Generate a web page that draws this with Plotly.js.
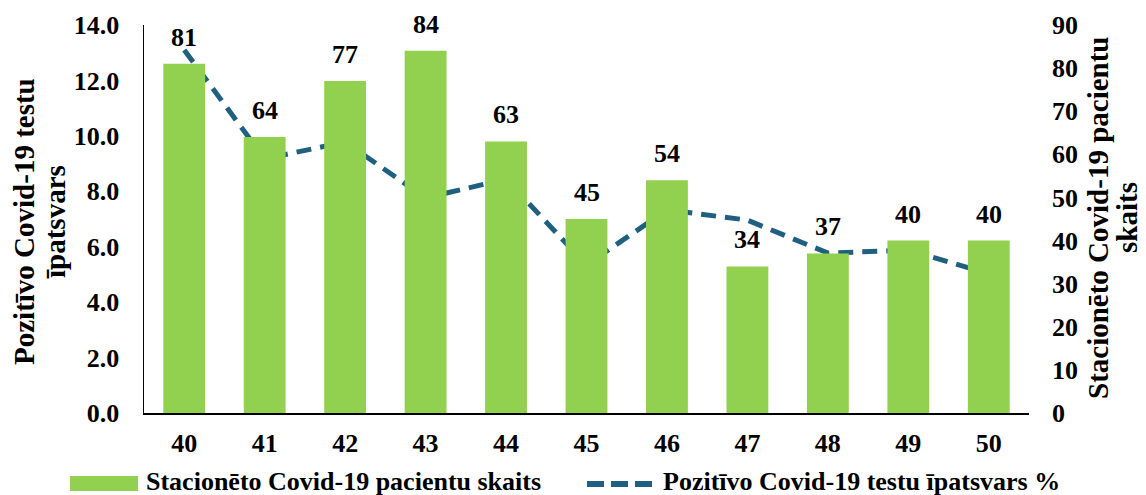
<!DOCTYPE html>
<html>
<head>
<meta charset="utf-8">
<script src="https://cdn.plot.ly/plotly-3.0.1.min.js"></script>
<style>html,body{margin:0;padding:0;background:#fff;}#chart{width:1146px;height:495px;}</style>
</head>
<body>
<div id="chart"></div>
<script>
const weeks = ['40','41','42','43','44','45','46','47','48','49','50'];
const patients = [81, 64, 77, 84, 63, 45, 54, 34, 37, 40, 40];
const positiveShare = [13.1, 9.17, 9.78, 7.76, 8.44, 5.34, 7.33, 6.96, 5.77, 5.88, 5.02];

const barName = 'Stacionēto Covid-19 pacientu skaits';
const lineName = 'Pozitīvo Covid-19 testu īpatsvars %';
const leftTitleLines = ['Pozitīvo Covid-19 testu', 'īpatsvars'];
const rightTitleLines = ['Stacionēto Covid-19 pacientu', 'skaits'];

const BAR_COLOR = '#92D050';
const LINE_COLOR = '#1F6080';
const FONT = 'Liberation Serif, Times New Roman, serif';
const baseFont = {family: FONT, size: 26, color: '#000', weight: 'bold'};
const titleFont = {family: FONT, size: 29, color: '#000', weight: 'bold'};

// plot area in pixels (for placing titles and the custom legend)
const W = 1146, H = 495, ML = 144, MR = 117, MT = 25, MB = 82;
const PW = W - ML - MR, PH = H - MT - MB;
const px = v => (v - ML) / PW;
const py = v => (H - MB - v) / PH;

const traces = [
  {
    type: 'bar', name: barName, x: weeks, y: patients, yaxis: 'y2',
    marker: {color: BAR_COLOR}, hoverinfo: 'skip', showlegend: false
  },
  {
    type: 'scatter', mode: 'lines', name: lineName, x: weeks, y: positiveShare, yaxis: 'y',
    line: {color: LINE_COLOR, width: 5, dash: '15px,9px'}, hoverinfo: 'skip', showlegend: false
  }
];

const annotations = weeks.map((w, i) => ({
  x: i, y: patients[i], xref: 'x', yref: 'y2', text: String(patients[i]),
  showarrow: false, yanchor: 'bottom', yshift: 10, font: baseFont
}));

// axis titles (one annotation per line for tight line spacing)
const titleLine = (text, xpx, ypx) => ({
  x: px(xpx), y: py(ypx), xref: 'paper', yref: 'paper', xanchor: 'center', yanchor: 'middle',
  textangle: -90, text: text, showarrow: false, font: titleFont, borderpad: 0
});
annotations.push(titleLine(leftTitleLines[0], 24, 222));
annotations.push(titleLine(leftTitleLines[1], 55, 222));
annotations.push(titleLine(rightTitleLines[0], 1098, 218));
annotations.push(titleLine(rightTitleLines[1], 1127, 218));

// legend texts
const legY = 481;
annotations.push({x: px(145), y: py(legY), xref: 'paper', yref: 'paper', xanchor: 'left', yanchor: 'middle',
  text: barName, showarrow: false, font: baseFont, borderpad: 0});
annotations.push({x: px(662), y: py(legY), xref: 'paper', yref: 'paper', xanchor: 'left', yanchor: 'middle',
  text: lineName, showarrow: false, font: baseFont, borderpad: 0});

const shapes = [
  {type: 'rect', xref: 'paper', yref: 'paper', x0: px(70), x1: px(138), y0: py(491), y1: py(476),
   fillcolor: BAR_COLOR, line: {width: 0}},
  {type: 'line', xref: 'paper', yref: 'paper', x0: px(587), x1: px(652), y0: py(484), y1: py(484),
   line: {color: LINE_COLOR, width: 6, dash: '17px,7px'}}
];

const layout = {
  width: W, height: H,
  margin: {l: ML, r: MR, t: MT, b: MB},
  paper_bgcolor: '#fff', plot_bgcolor: '#fff',
  font: baseFont,
  bargap: 0.48,
  showlegend: false,
  xaxis: {type: 'category', range: [-0.5, 10.5], showline: true, linecolor: '#000', linewidth: 1.5,
          showgrid: false, zeroline: false, ticks: '', tickfont: baseFont, ticklabelstandoff: 6},
  yaxis: {range: [0, 14], tickvals: [0,2,4,6,8,10,12,14], tickformat: '.1f',
          showline: true, linecolor: '#000', linewidth: 1.5, showgrid: false, zeroline: false,
          ticks: '', tickfont: baseFont, ticklabelstandoff: 18},
  yaxis2: {range: [0, 90], dtick: 10, overlaying: 'y', side: 'right', showline: false,
           showgrid: false, zeroline: false, ticks: '', tickfont: baseFont, ticklabelstandoff: 22},
  annotations: annotations,
  shapes: shapes
};

Plotly.newPlot('chart', traces, layout, {displayModeBar: false, staticPlot: true});
</script>
</body>
</html>
